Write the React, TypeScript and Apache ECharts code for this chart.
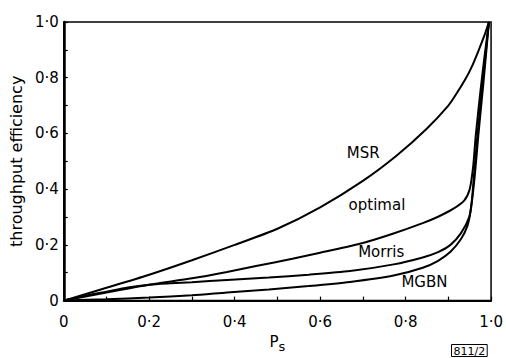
import React, { useEffect, useRef } from "react";
import * as echarts from "echarts";

// Curves: [Ps, throughput efficiency]
const msr: number[][] = [
  [0, 0], [0.1, 0.046], [0.2, 0.093], [0.3, 0.145], [0.4, 0.2], [0.5, 0.258],
  [0.6, 0.335], [0.7, 0.43], [0.78, 0.522], [0.85, 0.618], [0.9, 0.7],
  [0.92, 0.745], [0.94, 0.795], [0.955, 0.84], [0.97, 0.895], [0.984, 0.95], [0.995, 1],
];
const optimal: number[][] = [
  [0, 0], [0.1, 0.029], [0.2, 0.057], [0.3, 0.08], [0.382, 0.103], [0.45, 0.124],
  [0.535, 0.15], [0.6, 0.172], [0.7, 0.207], [0.77, 0.24], [0.84, 0.278],
  [0.876, 0.301], [0.91, 0.328], [0.937, 0.359], [0.95, 0.4], [0.958, 0.48],
  [0.964, 0.59], [0.975, 0.75], [0.985, 0.88], [0.995, 1],
];
const morris: number[][] = [
  [0, 0], [0.05, 0.017], [0.1, 0.032], [0.15, 0.047], [0.2, 0.057], [0.25, 0.062],
  [0.3, 0.066], [0.382, 0.074], [0.48, 0.083], [0.573, 0.093], [0.67, 0.106],
  [0.772, 0.13], [0.84, 0.155], [0.876, 0.174], [0.905, 0.2], [0.93, 0.243],
  [0.949, 0.301], [0.955, 0.36], [0.96, 0.45], [0.968, 0.59], [0.98, 0.78], [0.995, 1],
];
const mgbn: number[][] = [
  [0, 0], [0.1, 0.005], [0.2, 0.011], [0.3, 0.019], [0.382, 0.029], [0.48, 0.04],
  [0.573, 0.052], [0.67, 0.067], [0.772, 0.09], [0.84, 0.118], [0.876, 0.143],
  [0.905, 0.175], [0.93, 0.222], [0.945, 0.27], [0.953, 0.33], [0.962, 0.45],
  [0.97, 0.59], [0.982, 0.78], [0.995, 1],
];

const curveNames = ["MSR", "optimal", "Morris", "MGBN"];
const labelX = [0.701, 0.733, 0.743, 0.844];
const labelY = [0.531, 0.344, 0.174, 0.066];

const yAxisTitle = "throughput efficiency";
const xAxisTitleMain = "P";
const xAxisTitleSub = "s";
const figureCode = "811/2";

const FONT = "DejaVu Sans";
const INK = "#000";

function tickFmt(v: number): string {
  const r = Math.round(v * 10);
  if (r % 2 !== 0) return "";
  if (r === 0) return "0";
  return (r / 10).toFixed(1).replace(".", "·");
}

export default function App() {
  const ref = useRef<HTMLDivElement>(null);

  useEffect(() => {
    if (!ref.current) return;
    const chart = echarts.init(ref.current, undefined, { renderer: "svg" });
    const curves = [msr, optimal, morris, mgbn];
    const option: any = {
      animation: false,
      backgroundColor: "#fff",
      grid: {
        left: 59,
        right: 12,
        top: 22,
        bottom: 48,
        show: true,
        borderColor: INK,
        borderWidth: 1.5,
        containLabel: false,
      },
      xAxis: {
        type: "value",
        min: 0,
        max: 1,
        interval: 0.1,
        name: `{p|${xAxisTitleMain}}{s|${xAxisTitleSub}}`,
        nameLocation: "middle",
        nameGap: 30,
        nameTextStyle: {
          rich: {
            p: { fontFamily: FONT, fontSize: 15, color: INK },
            s: { fontFamily: FONT, fontSize: 13, color: INK, padding: [9, 0, 0, 0] },
          },
        },
        axisLine: { show: true, lineStyle: { color: INK, width: 2 } },
        axisTick: { show: true, inside: true, length: 4, lineStyle: { color: INK, width: 1.2 } },
        splitLine: { show: false },
        axisLabel: {
          margin: 14,
          formatter: tickFmt,
          fontFamily: FONT,
          fontSize: 15,
          color: INK,
        },
      },
      yAxis: {
        type: "value",
        min: 0,
        max: 1,
        interval: 0.1,
        name: yAxisTitle,
        nameLocation: "middle",
        nameGap: 38,
        nameRotate: 90,
        nameTextStyle: { fontFamily: FONT, fontSize: 16, color: INK },
        axisLine: { show: true, lineStyle: { color: INK, width: 2.5 } },
        axisTick: { show: true, inside: true, length: 4, lineStyle: { color: INK, width: 1.2 } },
        splitLine: { show: false },
        axisLabel: {
          margin: 5,
          formatter: tickFmt,
          fontFamily: FONT,
          fontSize: 15,
          color: INK,
        },
      },
      series: curves.map((d, i) => ({
        type: "line",
        name: curveNames[i],
        data: d,
        showSymbol: false,
        symbol: "none",
        smooth: 0.25,
        lineStyle: { color: INK, width: 2 },
        z: 3,
      })),
    };
    chart.setOption(option);

    const labelGraphics = curveNames.map((n, i) => {
      const [px, py] = chart.convertToPixel({ gridIndex: 0 }, [labelX[i], labelY[i]]) as number[];
      return {
        type: "text",
        x: px,
        y: py,
        style: {
          text: n,
          fontFamily: FONT,
          fontSize: 15,
          fill: INK,
          align: "center",
          verticalAlign: "middle",
        },
        z: 10,
      };
    });

    chart.setOption({
      graphic: [
        ...labelGraphics,
        {
          type: "text",
          left: 451,
          top: 344,
          style: {
            text: figureCode,
            fontFamily: FONT,
            fontSize: 11,
            fill: INK,
            borderColor: INK,
            borderWidth: 1,
            padding: [1, 2, 0, 2],
          },
        },
      ],
    });
    return () => chart.dispose();
  }, []);

  return (
    <div
      ref={ref}
      style={{ position: "absolute", left: 0, top: 0, width: 506, height: 358 }}
    />
  );
}
